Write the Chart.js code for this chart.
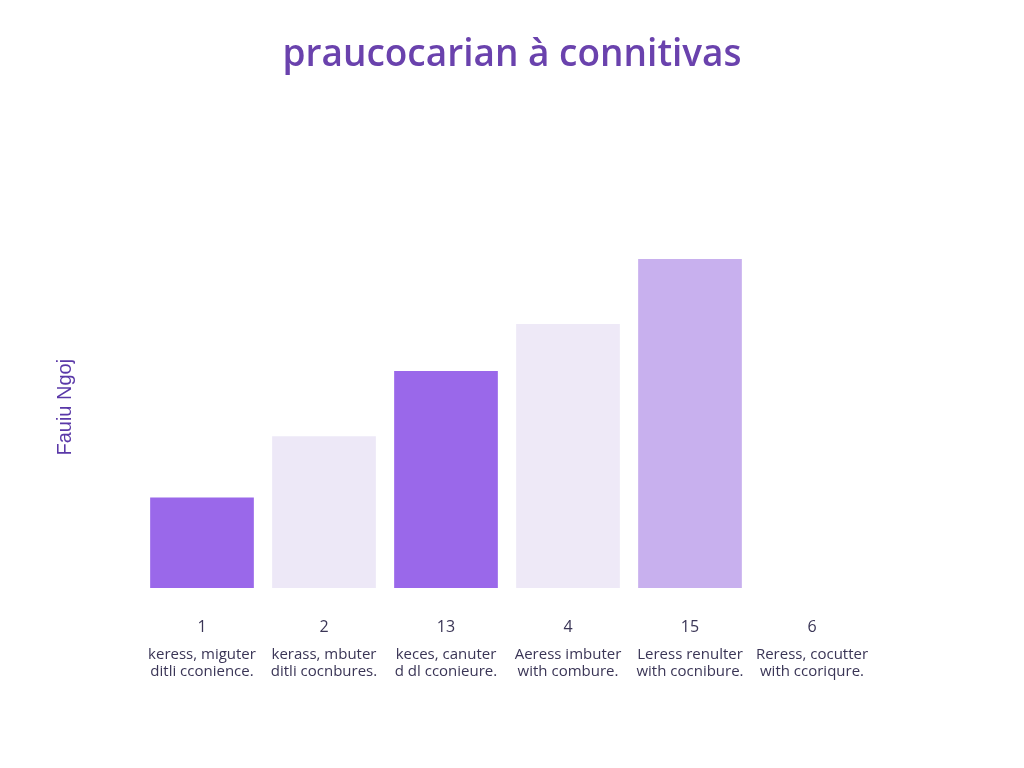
<!DOCTYPE html>
<html>
<head>
<meta charset="utf-8">
<title>praucocarian à connitivas</title>
<script src="https://cdn.jsdelivr.net/npm/chart.js@4.4.0/dist/chart.umd.min.js"></script>
<style>
    html, body { margin: 0; padding: 0; background: #ffffff; }
    #chart { display: block; }
</style>
</head>
<body>
<canvas id="chart" width="1024" height="768"></canvas>
<script>
const numberLabels = ['1', '2', '13', '4', '15', '6'];
const descriptionLabels = [
    ['keress, miguter', 'ditli cconience.'],
    ['kerass, mbuter', 'ditli cocnbures.'],
    ['keces, canuter', 'd dl cconieure.'],
    ['Aeress imbuter', 'with combure.'],
    ['Leress renulter', 'with cocnibure.'],
    ['Reress, cocutter', 'with ccoriqure.']
];
const barValues = [25, 42, 60, 73, 91, null];
const barColors = ['#9a68ea', '#ede8f7', '#9a68ea', '#eee9f7', '#c8b0ee', '#ede8f7'];

const textColor = '#3a3556';
const fontFamily = '"Open Sans", "DejaVu Sans", sans-serif';

const ctx = document.getElementById('chart').getContext('2d');

new Chart(ctx, {
    type: 'bar',
    data: {
        labels: numberLabels,
        datasets: [{
            data: barValues,
            backgroundColor: barColors,
            borderWidth: 0,
            barPercentage: 0.85,
            categoryPercentage: 1
        }]
    },
    options: {
        responsive: false,
        animation: false,
        layout: { padding: 0 },
        scales: {
            x: {
                position: 'bottom',
                grid: { display: false, drawTicks: false },
                border: { display: false },
                ticks: {
                    color: textColor,
                    padding: 30,
                    font: { family: fontFamily, size: 16 }
                },
                // fixed heights so the two label rows sit where the picture has them
                afterFit: function(scale) {
                    scale.height = 48;
                }
            },
            x2: {
                type: 'category',
                position: 'bottom',
                grid: { display: false, drawTicks: false },
                border: { display: false },
                ticks: {
                    color: textColor,
                    padding: 10,
                    font: { family: fontFamily, size: 15, lineHeight: 1.15 },
                    callback: function(value, index) {
                        return descriptionLabels[index];
                    }
                },
                afterFit: function(scale) {
                    scale.height = 132;
                }
            },
            y: {
                position: 'left',
                min: 0,
                max: 100,
                grid: { display: false, drawTicks: false },
                border: { display: false },
                ticks: { display: false },
                title: {
                    display: true,
                    text: 'Fauiu Ngoj',
                    color: '#5a38a8',
                    font: { family: '"Liberation Sans", Arial, sans-serif', size: 20 },
                    padding: { top: 53, bottom: 64 }
                }
            },
            yRight: {
                position: 'right',
                grid: { display: false, drawTicks: false },
                border: { display: false },
                ticks: { display: false },
                afterFit: function(scale) {
                    scale.width = 151;
                }
            }
        },
        plugins: {
            legend: { display: false },
            tooltip: { enabled: false },
            title: {
                display: true,
                text: 'praucocarian à connitivas',
                color: '#6a42ad',
                font: { family: fontFamily, size: 37, weight: '600' },
                padding: { top: 33, bottom: 149 }
            }
        }
    }
});
</script>
</body>
</html>
